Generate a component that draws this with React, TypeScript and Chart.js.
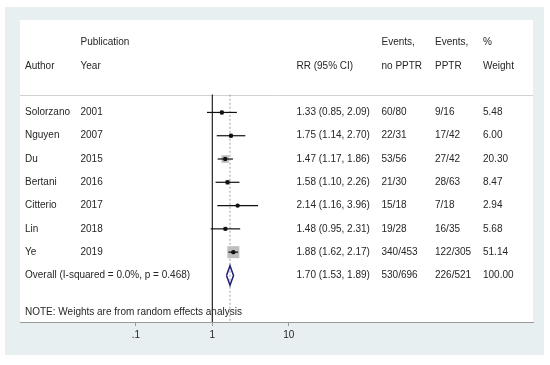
import React, { useEffect, useRef } from "react";
import { Chart, registerables } from "chart.js";

Chart.register(...registerables);

// ---- data ----
const authors = ["Solorzano", "Nguyen", "Du", "Bertani", "Citterio", "Lin", "Ye"];
const years = ["2001", "2007", "2015", "2016", "2017", "2018", "2019"];
const rr = [1.33, 1.75, 1.47, 1.58, 2.14, 1.48, 1.88];
const lower = [0.85, 1.14, 1.17, 1.1, 1.16, 0.95, 1.62];
const upper = [2.09, 2.7, 1.86, 2.26, 3.96, 2.31, 2.17];
const eventsNoPPTR = ["60/80", "22/31", "53/56", "21/30", "15/18", "19/28", "340/453"];
const eventsPPTR = ["9/16", "17/42", "27/42", "28/63", "7/18", "16/35", "122/305"];
const weights = [5.48, 6.0, 20.3, 8.47, 2.94, 5.68, 51.14];

const overallRR = 1.7;
const overallLower = 1.53;
const overallUpper = 1.89;
const overallEventsNoPPTR = "530/696";
const overallEventsPPTR = "226/521";
const overallWeight = 100.0;
const heterogeneity = "(I-squared = 0.0%, p = 0.468)";
const note = "NOTE: Weights are from random effects analysis";

const xTicks = [0.1, 1, 10];
const xTickLabels = [".1", "1", "10"];

// ---- layout constants ----
const FONT = '10px "Liberation Sans", Arial, sans-serif';
const TEXT = "#262626";
const ROW_OVERALL = authors.length;
const Y_TOP = -3.97;
const Y_BOTTOM = 9.0;
const Y_HEAD1 = -3.0;
const Y_HEAD2 = -1.97;
const Y_SEP = -0.76;
const Y_NOTE = 8.59;
const MAX_SIDE = 12;
const maxW = Math.max(...weights);

const fmt = (v: number) => v.toFixed(2);

const forestPlugin = {
  id: "forestDecor",
  beforeDraw(chart: any) {
    const { ctx, chartArea } = chart;
    ctx.save();
    ctx.fillStyle = "#ffffff";
    ctx.fillRect(0, 0, chart.width, chart.height);
    ctx.fillStyle = "#e8eff1";
    ctx.fillRect(5, 7, 539, 348);
    ctx.fillStyle = "#ffffff";
    ctx.fillRect(chartArea.left, chartArea.top, chartArea.right - chartArea.left, chartArea.bottom - chartArea.top);
    // separator
    const ys = chart.scales.y;
    const sy = Math.round(ys.getPixelForValue(Y_SEP)) + 0.5;
    ctx.strokeStyle = "#d2d2d2";
    ctx.lineWidth = 1;
    ctx.beginPath();
    ctx.moveTo(chartArea.left, sy);
    ctx.lineTo(chartArea.right, sy);
    ctx.stroke();
    ctx.restore();
  },
  afterDraw(chart: any) {
    const { ctx } = chart;
    const ys = chart.scales.y;
    const col = { author: 25, year: 80.5, rr: 296.5, ev1: 381.5, ev2: 435, w: 483 };
    ctx.save();
    ctx.font = FONT;
    ctx.fillStyle = TEXT;
    ctx.textBaseline = "middle";
    ctx.textAlign = "left";
    const put = (t: string, x: number, yv: number) => ctx.fillText(t, x, ys.getPixelForValue(yv));
    put("Publication", col.year, Y_HEAD1);
    put("Events,", col.ev1, Y_HEAD1);
    put("Events,", col.ev2, Y_HEAD1);
    put("%", col.w, Y_HEAD1);
    put("Author", col.author, Y_HEAD2);
    put("Year", col.year, Y_HEAD2);
    put("RR (95% CI)", col.rr, Y_HEAD2);
    put("no PPTR", col.ev1, Y_HEAD2);
    put("PPTR", col.ev2, Y_HEAD2);
    put("Weight", col.w, Y_HEAD2);
    authors.forEach((a, i) => {
      put(a, col.author, i);
      put(years[i], col.year, i);
      put(`${fmt(rr[i])} (${fmt(lower[i])}, ${fmt(upper[i])})`, col.rr, i);
      put(eventsNoPPTR[i], col.ev1, i);
      put(eventsPPTR[i], col.ev2, i);
      put(fmt(weights[i]), col.w, i);
    });
    put("Overall " + heterogeneity, col.author, ROW_OVERALL);
    put(`${fmt(overallRR)} (${fmt(overallLower)}, ${fmt(overallUpper)})`, col.rr, ROW_OVERALL);
    put(overallEventsNoPPTR, col.ev1, ROW_OVERALL);
    put(overallEventsPPTR, col.ev2, ROW_OVERALL);
    put(fmt(overallWeight), col.w, ROW_OVERALL);
    put(note, col.author, Y_NOTE);
    ctx.restore();
  },
};

export default function App() {
  const ref = useRef<HTMLCanvasElement | null>(null);
  useEffect(() => {
    if (!ref.current) return;
    const ciSets = authors.map((a, i) => ({
      type: "line" as const,
      label: a + " CI",
      data: [
        { x: lower[i], y: i },
        { x: upper[i], y: i },
      ],
      borderColor: "#111111",
      borderWidth: 1.2,
      pointRadius: 0,
      fill: false,
      order: 1,
    }));
    const chart = new Chart(ref.current, {
      type: "scatter",
      data: {
        datasets: [
          {
            label: "estimate",
            data: rr.map((v, i) => ({ x: v, y: i })),
            pointStyle: "circle",
            pointRadius: 2.2,
            backgroundColor: "#111111",
            borderWidth: 0,
            order: 0,
          },
          ...ciSets,
          {
            label: "weight",
            data: rr.map((v, i) => ({ x: v, y: i })),
            pointStyle: "rect",
            pointRadius: (c: any) => (MAX_SIDE * Math.sqrt(weights[c.dataIndex] / maxW)) / Math.SQRT2,
            backgroundColor: "#bfbfbf",
            borderWidth: 0,
            order: 2,
          },
          {
            type: "line" as const,
            label: "overall",
            data: [
              { x: overallLower, y: ROW_OVERALL },
              { x: overallRR, y: ROW_OVERALL - 0.42 },
              { x: overallUpper, y: ROW_OVERALL },
              { x: overallRR, y: ROW_OVERALL + 0.42 },
              { x: overallLower, y: ROW_OVERALL },
            ],
            borderColor: "#1e1e78",
            borderWidth: 1.5,
            pointRadius: 0,
            fill: false,
            tension: 0,
            order: 1,
          },
          {
            type: "line" as const,
            label: "null",
            data: [
              { x: 1, y: Y_SEP },
              { x: 1, y: Y_BOTTOM },
            ],
            borderColor: "#333333",
            borderWidth: 1,
            pointRadius: 0,
            order: 3,
          },
          {
            type: "line" as const,
            label: "overall line",
            data: [
              { x: overallRR, y: Y_SEP },
              { x: overallRR, y: Y_BOTTOM },
            ],
            borderColor: "#999999",
            borderWidth: 1,
            borderDash: [2, 2],
            pointRadius: 0,
            order: 3,
          },
        ],
      },
      options: {
        responsive: false,
        animation: false,
        events: [],
        layout: { padding: { left: 20, right: 17, top: 20, bottom: 21 } },
        plugins: { legend: { display: false }, tooltip: { enabled: false } },
        scales: {
          x: {
            type: "logarithmic",
            min: Math.pow(10, -2.518),
            max: Math.pow(10, 4.196),
            afterBuildTicks: (axis: any) => {
              axis.ticks = xTicks.map((v) => ({ value: v }));
            },
            ticks: {
              autoSkip: false,
              maxRotation: 0,
              padding: 3,
              color: TEXT,
              font: { family: '"Liberation Sans", Arial, sans-serif', size: 10 },
              callback: (_v: any, idx: number) => xTickLabels[idx],
            },
            grid: { drawOnChartArea: false, drawTicks: true, tickLength: 4, color: "#9a9a9a" },
            border: { display: true, color: "#9a9a9a" },
          },
          y: {
            type: "linear",
            reverse: true,
            min: Y_TOP,
            max: Y_BOTTOM,
            display: false,
          },
        },
      },
      plugins: [forestPlugin],
    } as any);
    return () => chart.destroy();
  }, []);
  return (
    <div style={{ position: "fixed", left: 0, top: 0, width: 550, height: 365 }}>
      <canvas ref={ref} width={550} height={365} />
    </div>
  );
}
